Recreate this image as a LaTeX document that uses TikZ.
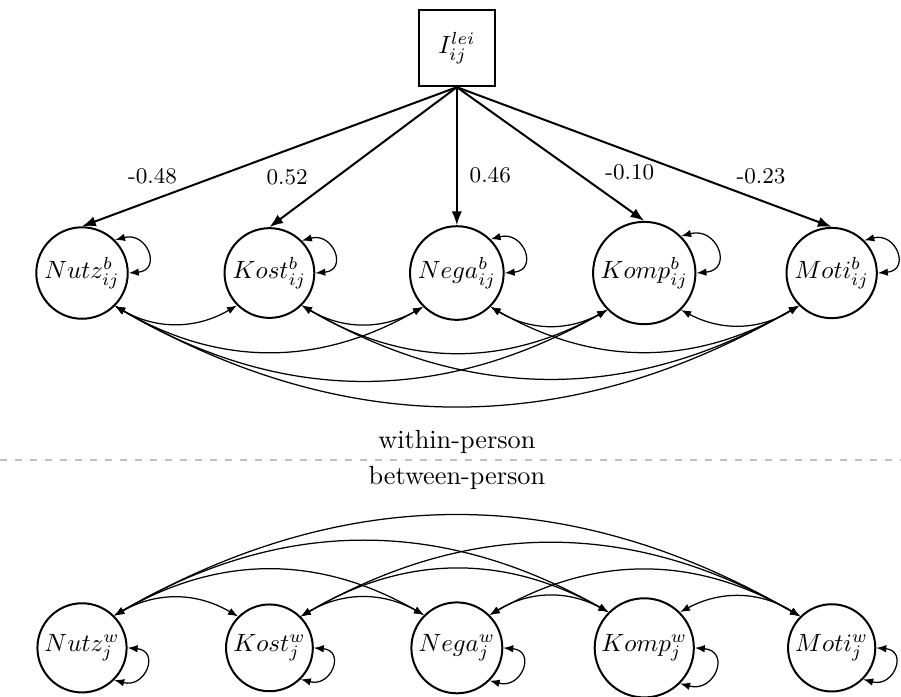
\documentclass[tikz,border=0pt]{standalone}
\usepackage{amsmath}
\usepackage{tikz}
\usetikzlibrary{arrows.meta,positioning}

\tikzset{
  latent/.style={circle,draw,thick,minimum size=1.22cm,inner sep=1.5pt},
  manifest/.style={rectangle,draw,thick,minimum size=1.07cm,inner sep=1pt},
  regpath/.style={->,thick,>={Latex[length=5.5pt]}},
  cov/.style={<->,line width=0.5pt,>={Latex[length=4pt]}},
  coef/.style={font=\small},
  tier/.style={font=\fontsize{10.5pt}{12pt}\selectfont},
}

\begin{document}
\begin{tikzpicture}[x=2.635cm,y=2.635cm]
  \useasboundingbox (-0.4376,-2.2572) rectangle (4.370,1.4568);

  % Indicator
  \node[manifest] (Ilei) at (2,1.2) {$I_{ij}^{lei}$};

  % Within level (b)
  \node[latent] (Nutzb) at (0,0) {$Nutz_{ij}^{b}$};
  \node[latent] (Kostb) at (1,0) {$Kost_{ij}^{b}$};
  \node[latent] (Negab) at (2,0) {$Nega_{ij}^{b}$};
  \node[latent] (Kompb) at (3,0) {$Komp_{ij}^{b}$};
  \node[latent] (Motib) at (4,0) {$Moti_{ij}^{b}$};

  % Between level (w)
  \node[latent] (Nutzw) at (0,-2) {$Nutz_{j}^{w}$};
  \node[latent] (Kostw) at (1,-2) {$Kost_{j}^{w}$};
  \node[latent] (Negaw) at (2,-2) {$Nega_{j}^{w}$};
  \node[latent] (Kompw) at (3,-2) {$Komp_{j}^{w}$};
  \node[latent] (Motiw) at (4,-2) {$Moti_{j}^{w}$};

  % Paths from the indicator
  \draw[regpath] (Ilei.south) -- node[coef,pos=0.64,left=0.43cm]{-0.48} (Nutzb.north);
  \draw[regpath] (Ilei.south) -- node[coef,pos=0.64,left=0.28cm]{0.52} (Kostb.north);
  \draw[regpath] (Ilei.south) -- node[coef,pos=0.64,right=0.05cm]{0.46} (Negab.north);
  \draw[regpath] (Ilei.south) -- node[coef,pos=0.64,right=0.27cm]{-0.10} (Kompb.north);
  \draw[regpath] (Ilei.south) -- node[coef,pos=0.64,right=0.43cm]{-0.23} (Motib.north);

  % Residual variances (b)
  \draw[cov] (Nutzb.45) to[out=15,in=5,looseness=2.4] (Nutzb.0);
  \draw[cov] (Kostb.45) to[out=15,in=5,looseness=2.4] (Kostb.0);
  \draw[cov] (Negab.45) to[out=15,in=5,looseness=2.4] (Negab.0);
  \draw[cov] (Kompb.45) to[out=15,in=5,looseness=2.4] (Kompb.0);
  \draw[cov] (Motib.45) to[out=15,in=5,looseness=2.4] (Motib.0);

  % Covariances (b)
  \draw[cov] (Nutzb.south east) to[bend right=30] (Kostb.south west);
  \draw[cov] (Nutzb.south east) to[bend right=30] (Negab.south west);
  \draw[cov] (Nutzb.south east) to[bend right=30] (Kompb.south west);
  \draw[cov] (Nutzb.south east) to[bend right=30] (Motib.south west);
  \draw[cov] (Kostb.south east) to[bend right=30] (Negab.south west);
  \draw[cov] (Kostb.south east) to[bend right=30] (Kompb.south west);
  \draw[cov] (Kostb.south east) to[bend right=30] (Motib.south west);
  \draw[cov] (Negab.south east) to[bend right=30] (Kompb.south west);
  \draw[cov] (Negab.south east) to[bend right=30] (Motib.south west);
  \draw[cov] (Kompb.south east) to[bend right=30] (Motib.south west);

  % Level separator
  \draw[thick,dashed,gray!50] (-0.4376,-1) -- (4.370,-1);
  \node[tier] (within) at (2,-0.902) {within-person};
  \node[tier] (between) at (2,-1.094) {between-person};

  % Residual variances (w)
  \draw[cov] (Nutzw.0) to[out=-5,in=-15,looseness=2.4] (Nutzw.-45);
  \draw[cov] (Kostw.0) to[out=-5,in=-15,looseness=2.4] (Kostw.-45);
  \draw[cov] (Negaw.0) to[out=-5,in=-15,looseness=2.4] (Negaw.-45);
  \draw[cov] (Kompw.0) to[out=-5,in=-15,looseness=2.4] (Kompw.-45);
  \draw[cov] (Motiw.0) to[out=-5,in=-15,looseness=2.4] (Motiw.-45);

  % Covariances (w)
  \draw[cov] (Nutzw.north east) to[bend left=30] (Kostw.north west);
  \draw[cov] (Nutzw.north east) to[bend left=30] (Negaw.north west);
  \draw[cov] (Nutzw.north east) to[bend left=30] (Kompw.north west);
  \draw[cov] (Nutzw.north east) to[bend left=30] (Motiw.north west);
  \draw[cov] (Kostw.north east) to[bend left=30] (Negaw.north west);
  \draw[cov] (Kostw.north east) to[bend left=30] (Kompw.north west);
  \draw[cov] (Kostw.north east) to[bend left=30] (Motiw.north west);
  \draw[cov] (Negaw.north east) to[bend left=30] (Kompw.north west);
  \draw[cov] (Negaw.north east) to[bend left=30] (Motiw.north west);
  \draw[cov] (Kompw.north east) to[bend left=30] (Motiw.north west);
\end{tikzpicture}
\end{document}
